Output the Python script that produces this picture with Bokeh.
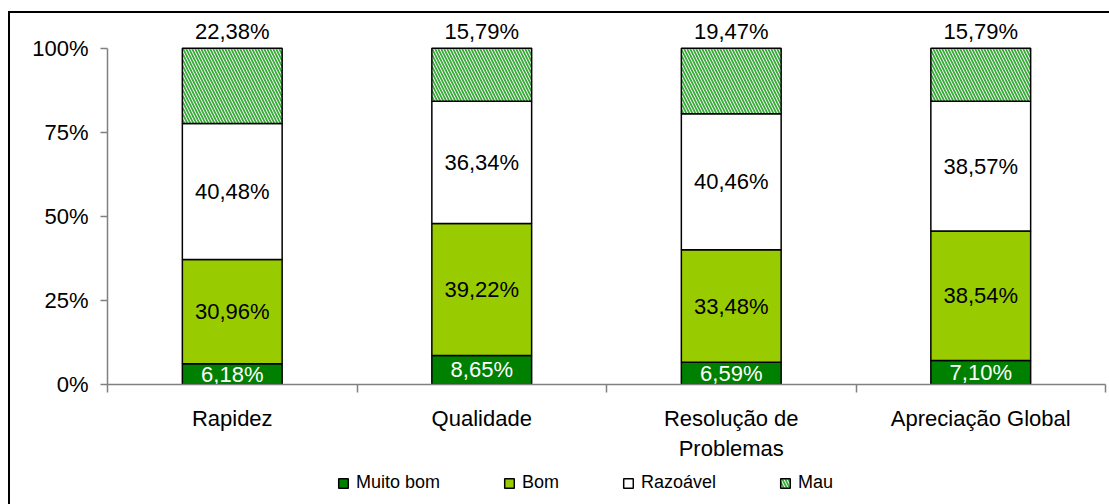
from bokeh.plotting import figure
from bokeh.layouts import column
from bokeh.models import (Range1d, FixedTicker, PrintfTickFormatter, Legend,
                          LegendItem, ColumnDataSource)
from bokeh.core.properties import value
from bokeh.embed import file_html
from bokeh.resources import INLINE

# ---- data ----
categories = ["Rapidez", "Qualidade", "Resolução de\nProblemas", "Apreciação Global"]
series_names = ["Muito bom", "Bom", "Razoável", "Mau"]
muito_bom = [6.18, 8.65, 6.59, 7.10]
bom = [30.96, 39.22, 33.48, 38.54]
razoavel = [40.48, 36.34, 40.46, 38.57]
mau = [22.38, 15.79, 19.47, 15.79]
y_ticks = [0, 25, 50, 75, 100]

FONT = "Liberation Sans"
fill_colors = ["#008000", "#99CC00", "#FFFFFF", "#FFFFFF"]
label_colors = ["white", "black", "black", "black"]
hatches = [None, None, None, "\\"]
HATCH = dict(hatch_color="#3AAA3A", hatch_scale=6, hatch_weight=1.8)

n = len(categories)
x = [i + 0.5 for i in range(n)]

p = figure(width=1099, height=455,
           x_range=Range1d(0, n), y_range=Range1d(0, 110),
           output_backend="svg", toolbar_location=None,
           min_border_left=97, min_border_right=4,
           min_border_top=1, min_border_bottom=84)
p.background_fill_color = "white"
p.border_fill_color = "white"
p.outline_line_color = None
p.xgrid.visible = False
p.ygrid.visible = False


def fmt(v):
    return f"{v:.2f}".replace(".", ",") + "%"


def bar_style(idx):
    kw = dict(fill_color=fill_colors[idx], line_color="black", line_width=1.5)
    if hatches[idx]:
        kw.update(hatch_pattern=hatches[idx], **HATCH)
    return kw


series = [muito_bom, bom, razoavel, mau]
bottom = [0.0] * n
for idx, (name, vals) in enumerate(zip(series_names, series)):
    top = [b + v for b, v in zip(bottom, vals)]
    src = ColumnDataSource(dict(
        x=x, bottom=bottom, top=top,
        mid=[(b + t) / 2 for b, t in zip(bottom, top)],
        label=[fmt(v) for v in vals]))
    p.vbar(x="x", bottom="bottom", top="top", width=0.4, source=src, **bar_style(idx))
    if idx == len(series) - 1:
        p.text(x="x", y="top", text="label", source=src, text_align="center",
               text_baseline="bottom", y_offset=-4,
               text_font=value(FONT), text_font_size="22px", text_color="black")
    else:
        p.text(x="x", y="mid", text="label", source=src, text_align="center",
               text_baseline="middle",
               text_font=value(FONT), text_font_size="22px",
               text_color=label_colors[idx])
    bottom = top

# y axis
p.yaxis.ticker = FixedTicker(ticks=y_ticks)
p.yaxis.bounds = (0, 100)
p.yaxis.formatter = PrintfTickFormatter(format="%d%%")
p.yaxis.major_tick_out = 7
p.yaxis.major_tick_in = 0
p.yaxis.minor_tick_line_color = None
p.yaxis.axis_line_color = "#808080"
p.yaxis.major_tick_line_color = "#808080"
p.yaxis.axis_line_width = 1.5
p.yaxis.major_tick_line_width = 1.5
p.yaxis.major_label_text_font = FONT
p.yaxis.major_label_text_font_size = "22px"
p.yaxis.major_label_text_color = "black"
p.yaxis.major_label_standoff = 12

# x axis
p.xaxis.ticker = FixedTicker(ticks=x, minor_ticks=list(range(n + 1)))
p.xaxis.major_label_overrides = {xi: c for xi, c in zip(x, categories)}
p.xaxis.major_tick_line_color = None
p.xaxis.major_tick_out = 0
p.xaxis.major_tick_in = 0
p.xaxis.minor_tick_out = 8
p.xaxis.minor_tick_in = 0
p.xaxis.minor_tick_line_color = "#808080"
p.xaxis.minor_tick_line_width = 1.5
p.xaxis.axis_line_color = "#808080"
p.xaxis.axis_line_width = 1.5
p.xaxis.major_label_text_font = FONT
p.xaxis.major_label_text_font_size = "22px"
p.xaxis.major_label_text_color = "black"
p.xaxis.major_label_standoff = 13

# ---- legend strip (hidden swatch renderers only feed the legend) ----
pl = figure(width=1099, height=36, x_range=Range1d(0, 1), y_range=Range1d(0, 1),
            output_backend="svg", toolbar_location=None,
            min_border_left=0, min_border_right=0, min_border_top=0, min_border_bottom=0,
            x_axis_type=None, y_axis_type=None)
pl.outline_line_color = None
pl.xgrid.visible = False
pl.ygrid.visible = False
pl.background_fill_color = "white"
pl.border_fill_color = "white"
items = []
for idx, name in enumerate(series_names):
    r = pl.vbar(x=[-5.0], bottom=[-5.0], top=[-4.0], width=0.4, **bar_style(idx))
    r.visible = False
    items.append(LegendItem(label=name, renderers=[r]))
legend = Legend(items=items, orientation="horizontal", location=(230, 11),
                border_line_color=None, background_fill_alpha=0,
                padding=0, margin=0, spacing=63, label_standoff=7,
                glyph_width=12, glyph_height=12,
                label_text_font=FONT, label_text_font_size="18px",
                label_text_color="black")
pl.add_layout(legend, "center")

layout = column(p, pl, spacing=0)
layout.styles = {"border-left": "2px solid black", "border-top": "2px solid black",
                 "margin-left": "8px", "margin-top": "11px"}

open("out.html", "w").write(file_html(layout, INLINE))
